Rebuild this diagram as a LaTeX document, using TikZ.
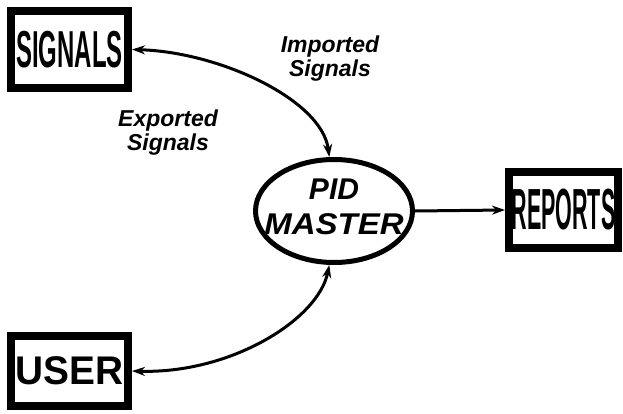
\documentclass[tikz,border=0pt]{standalone}
\usepackage{fontspec}
\setmainfont{Liberation Sans}
\usetikzlibrary{shapes.geometric,arrows.meta}

\tikzset{
  extbox/.style={draw, line width=8pt, inner sep=0pt, fill=white},
  procnode/.style={draw, ellipse, line width=5pt, inner sep=0pt,
    minimum width=157pt, minimum height=103pt},
  proclabel/.style={align=center, inner sep=0pt,
    font=\fontsize{30}{35}\selectfont\bfseries\itshape},
  flowlabel/.style={align=center, font=\fontsize{23}{24}\selectfont\bfseries\itshape},
  flow/.style={line width=3pt, -{Stealth[length=13pt,width=9pt]}},
  biflow/.style={line width=3pt, {Stealth[length=13pt,width=9pt]}-{Stealth[length=13pt,width=9pt]}},
}

\begin{document}
\begin{tikzpicture}[x=1pt, y=-1pt]
  \useasboundingbox (0,0) rectangle (623,414);

  % external entities
  \node[extbox, minimum width=117pt, minimum height=77pt] (signals) at (69.5,49.5)
    {\scalebox{0.46}[1]{\fontsize{52}{52}\selectfont\bfseries SIGNALS}};
  \node[extbox, minimum width=109pt, minimum height=76pt] (reports) at (563.5,210)
    {\scalebox{0.37}[1]{\fontsize{58}{58}\selectfont\bfseries REPORTS}};
  \node[extbox, minimum width=117pt, minimum height=70pt] (user) at (69.5,371)
    {\scalebox{0.97}[1]{\fontsize{40}{40}\selectfont\bfseries USER}};

  % central process
  \node[procnode] (pid) at (334,211) {};
  \node[proclabel] (pidtext) at (334,207) {PID\\\scalebox{1.1}[1]{MASTER}};

  % data flow labels
  \node[flowlabel] (implbl) at (330,59) {Imported\\Signals};
  \node[flowlabel] (explbl) at (168,133) {Exported\\Signals};

  % data flows
  \draw[biflow] (signals.east) .. controls (220,52) and (322,100) .. (pid.95);
  \draw[biflow] (user.east) .. controls (230,374) and (318,320) .. (pid.265);
  \draw[flow] (pid.east) -- (reports.west);
\end{tikzpicture}
\end{document}
